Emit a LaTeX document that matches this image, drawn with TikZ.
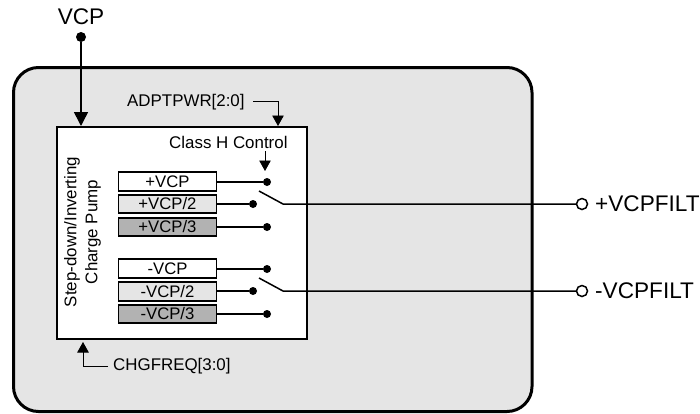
\documentclass[tikz,border=0pt]{standalone}
\usepackage{fontspec}
\setmainfont{Liberation Sans}
\usepackage{tikz}
\usetikzlibrary{arrows.meta}
\definecolor{panelgray}{HTML}{E5E5E5}
\definecolor{darkgray}{HTML}{B2B2B2}
\tikzset{
  lab/.style={inner sep=0pt, font=\fontsize{16.9}{20}\selectfont},
  biglab/.style={inner sep=0pt, font=\fontsize{22.6}{26}\selectfont},
  level/.style={draw, line width=1.6pt, minimum width=98pt, minimum height=18.5pt,
    inner sep=0pt, font=\fontsize{16.7}{20}\selectfont},
  jdot/.style={circle, fill=black, inner sep=0pt, minimum size=8pt},
  pinopen/.style={circle, draw, fill=white, line width=1.5pt, inner sep=0pt, minimum size=11pt},
  wire/.style={line width=1.5pt},
  ctrl/.style={line width=0.9pt, -{Triangle[length=10.5pt, width=11.5pt]}},
  tipped/.style={-{Triangle[length=14pt, width=14pt]}}
}
\begin{document}
\begin{tikzpicture}[x=1pt, y=-1pt]
  \useasboundingbox (0,0) rectangle (700,413);
  % outer panel and converter block
  \draw[line width=3pt, fill=panelgray, rounded corners=25pt] (13.5,67.5) rectangle (532,411.5);
  \node[draw, fill=white, line width=2pt, minimum width=250pt, minimum height=212pt,
    inner sep=0pt] (pump) at (182,233) {};
  % top inputs
  \node[biglab] (vcplab) at (81,17) {VCP};
  \node[jdot, minimum size=10pt] (vcpdot) at (81,37) {};
  \draw[wire, tipped] (vcpdot) -- (81,126);
  \node[lab, anchor=west] (adptlab) at (127,102) {ADPTPWR[2:0]};
  \coordinate (adptin) at (278,126);
  \draw[ctrl] (253,101) -| (adptin);
  \node[lab, anchor=west] (classlab) at (169,142) {Class H Control};
  % rotated labels
  \node[lab, rotate=90] (steplab) at (72,232) {Step-down/Inverting};
  \node[lab, rotate=90] (chargelab) at (93,232) {Charge Pump};
  % positive levels
  \node[level, fill=white] (pa) at (167.5,181.5) {+VCP};
  \node[level, fill=panelgray] (pb) at (167.5,204) {+VCP/2};
  \node[level, fill=darkgray] (pc) at (167.5,227) {+VCP/3};
  \node[jdot] (pda) at (267,182) {};
  \node[jdot] (pdb) at (253,204) {};
  \node[jdot] (pdc) at (267,227) {};
  \draw[wire] (pa.east |- pda) -- (pda);
  \draw[wire] (pb.east |- pdb) -- (pdb);
  \draw[wire] (pc.east |- pdc) -- (pdc);
  % negative levels
  \node[level, fill=white] (na) at (167.5,268.5) {-VCP};
  \node[level, fill=panelgray] (nb) at (167.5,291.5) {-VCP/2};
  \node[level, fill=darkgray] (nc) at (167.5,314) {-VCP/3};
  \node[jdot] (nda) at (267,269) {};
  \node[jdot] (ndb) at (253,291) {};
  \node[jdot] (ndc) at (267,314) {};
  \draw[wire] (na.east |- nda) -- (nda);
  \draw[wire] (nb.east |- ndb) -- (ndb);
  \draw[wire] (nc.east |- ndc) -- (ndc);
  \draw[ctrl] (265,151) -- (265,171);
  % outputs
  \node[pinopen] (pout) at (582,204) {};
  \node[pinopen] (nout) at (582,291) {};
  \node[biglab, anchor=west] (poutlab) at (595,204) {+VCPFILT};
  \node[biglab, anchor=west] (noutlab) at (595,291) {-VCPFILT};
  \draw[wire] (259,191) -- (283,204) -- (pout);
  \draw[wire] (259,278) -- (283,291) -- (nout);
  % charge pump frequency
  \node[lab, anchor=west] (freqlab) at (113,366) {CHGFREQ[3:0]};
  \draw[ctrl] (108,366) -| (83,342);
\end{tikzpicture}
\end{document}
